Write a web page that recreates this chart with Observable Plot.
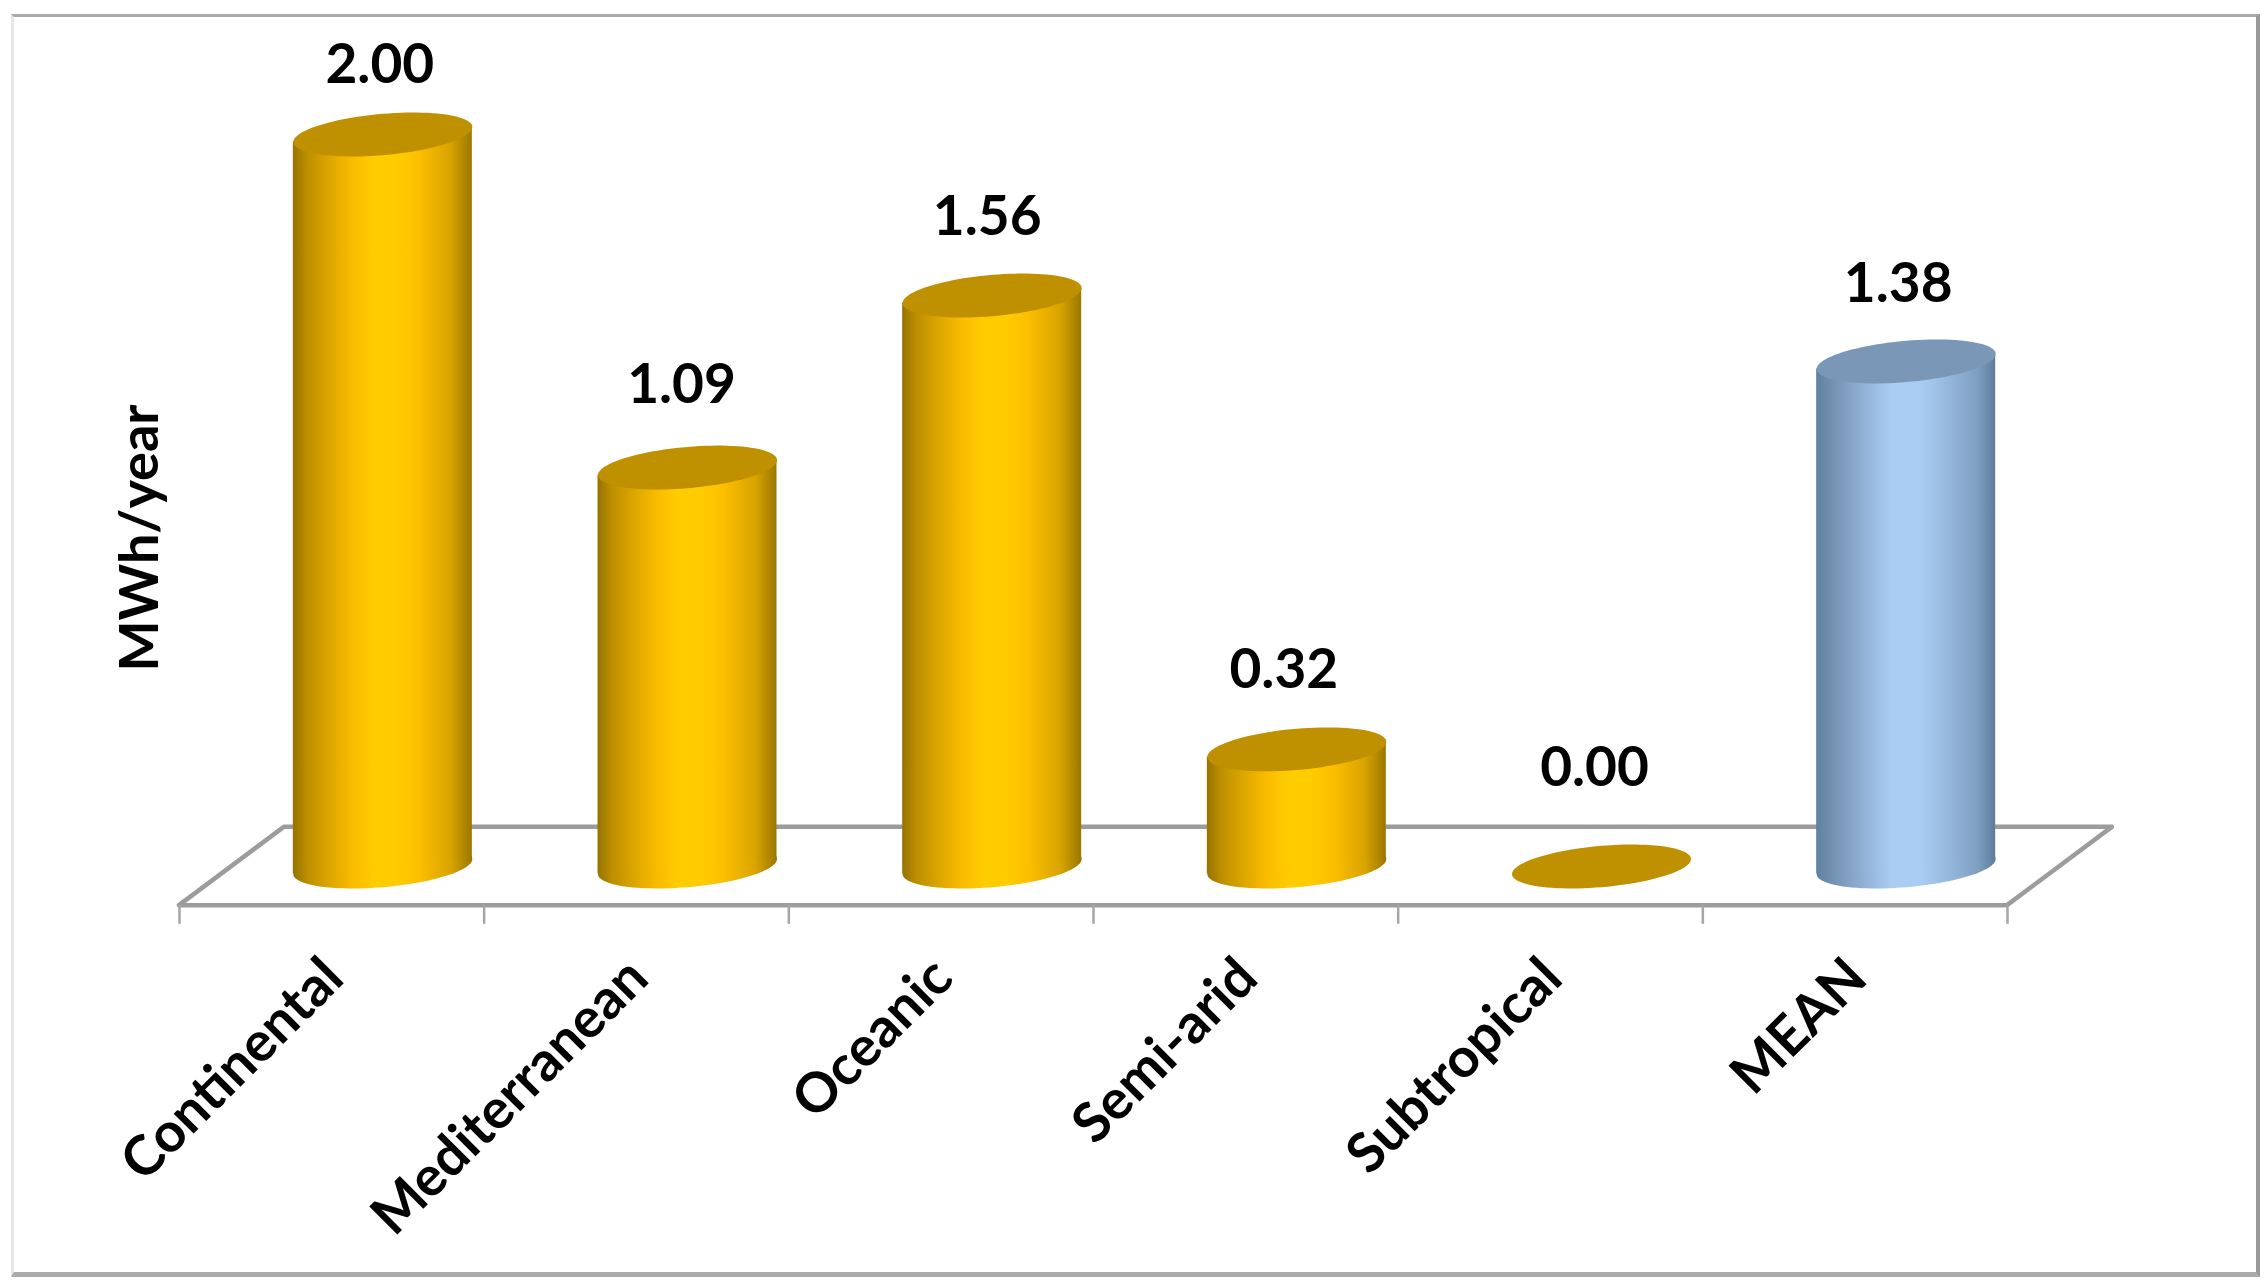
<!DOCTYPE html>
<html>
<head>
<meta charset="utf-8">
<script src="https://cdn.jsdelivr.net/npm/d3@7"></script>
<script src="https://cdn.jsdelivr.net/npm/@observablehq/plot@0.6"></script>
<style>
html,body{margin:0;padding:0;background:#fff;overflow:hidden;width:2267px;height:1288px}
#border{position:absolute;left:11px;top:14px;width:2242px;height:1255px;border-top:3px solid #a9a9a9;border-right:4px solid #999;border-bottom:5px solid #aaa;border-left:3px solid #e6e6e6;box-sizing:content-box}
#chart{position:absolute;left:0;top:0}
</style>
</head>
<body>
<div id="border"></div>
<div id="chart"></div>
<script>
const categories = ["Continental", "Mediterranean", "Oceanic", "Semi-arid", "Subtropical", "MEAN"];
const values = [2.00, 1.09, 1.56, 0.32, 0.00, 1.38];
const yTitle = "MWh/year";

const data = categories.map((category, i) => ({category, value: values[i], mean: category === "MEAN"}));

// Fine placement of the value labels (pixels)
const labelDx = [-3, -6, -5, -13, -7, -8];
const labelDy = [-69, -82, -78, -79, -98, -77];

// 3D look: floor depth, in value units and band widths
const floorFront = -0.107, floorBack = 0.107, tickEnd = -0.158, depthBands = 0.344;
const depthShift = 51, halfWidth = 89.5;
const slope = 0.0838;

const tilted = {
  draw(context, size) {
    const a = Math.sqrt(size / Math.PI), b = a * 0.231, c = -a * slope;
    for (let i = 0; i < 96; ++i) {
      const t = (i / 96) * 2 * Math.PI;
      const px = a * Math.cos(t), py = b * Math.sin(t) + c * Math.cos(t);
      i ? context.lineTo(px, py) : context.moveTo(px, py);
    }
    context.closePath();
  }
};

const floor = (index, {x, y}) => {
  const bw = x.bandwidth();
  const x0 = x(categories[0]), x1 = x0 + bw * categories.length, d = bw * depthBands;
  const g = d3.create("svg:g");
  g.append("path")
    .attr("d", `M${x0},${y(floorFront)}L${x1},${y(floorFront)}L${x1 + d},${y(floorBack)}L${x0 + d},${y(floorBack)}Z`)
    .attr("fill", "#fff").attr("stroke", "#9c9c9c").attr("stroke-width", 4.5).attr("stroke-linejoin", "round");
  return g.node();
};

const bandFill = d => d.mean ? "url(#blueBody)" : "url(#goldBody)";
const capFill = d => d.mean ? "#7b97b8" : "#bf9000";
const txt = {fontFamily: "Lato, 'Open Sans', sans-serif", fontWeight: 700, fill: "#000"};

const plot = Plot.plot({
  width: 2267, height: 1288,
  marginLeft: 179, marginRight: 260, marginTop: 134, marginBottom: 383,
  style: {background: "transparent", overflow: "visible"},
  x: {domain: categories, range: [179, 2007], padding: 0, round: false, axis: null},
  y: {domain: [0, 2], range: [866, 134], axis: null},
  color: {type: "identity"},
  marks: [
    floor,
    Plot.ruleX(categories, {x: d => d, y1: floorFront, y2: tickEnd, dx: -152.33, stroke: "#a6a6a6", strokeWidth: 2.5}),
    Plot.ruleX(categories.slice(-1), {x: d => d, y1: floorFront, y2: tickEnd, dx: 152.33, stroke: "#a6a6a6", strokeWidth: 2.5}),
    Plot.axisX({anchor: "bottom", tickSize: 0, tickRotate: -45, tickPadding: 0, dx: 2, dy: 63, fontSize: 55, ...txt, label: null}),
    Plot.dot(data.filter(d => d.value > 0), {x: "category", y: () => 0, r: halfWidth, symbol: tilted, dx: depthShift, fill: bandFill}),
    Plot.barY(data.filter(d => d.value > 0), {x: "category", y1: () => 0, y2: "value", insetLeft: 152.33 - halfWidth, insetRight: 152.33 - halfWidth, dx: depthShift, fill: bandFill}),
    Plot.dot(data, {x: "category", y: "value", r: halfWidth, symbol: tilted, dx: depthShift, fill: capFill}),
    ...data.map((d, i) => Plot.text([d], {x: "category", y: "value", text: v => v.value.toFixed(2), dx: depthShift + labelDx[i], dy: labelDy[i], fontSize: 55, ...txt})),
    Plot.text([yTitle], {frameAnchor: "left", textAnchor: "middle", rotate: -90, dx: -39, dy: 18, fontSize: 54, ...txt})
  ]
});

const defs = d3.select(plot).insert("svg:defs", ":first-child");
const gradient = (id, stops) => {
  const g = defs.append("linearGradient").attr("id", id).attr("x1", 0).attr("x2", 1).attr("y1", 0).attr("y2", 0);
  stops.forEach(([o, c]) => g.append("stop").attr("offset", o).attr("stop-color", c));
};
gradient("goldBody", [[0, "#967300"], [0.08, "#bd8f00"], [0.2, "#dba600"], [0.33, "#fabb00"], [0.45, "#ffcc00"], [0.58, "#ffcc00"], [0.7, "#fdbf00"], [0.88, "#d9a400"], [1, "#9a7700"]]);
gradient("blueBody", [[0, "#5f809f"], [0.1, "#7593b3"], [0.25, "#8fafd2"], [0.42, "#a9cdf3"], [0.58, "#a9cdf3"], [0.75, "#94b6da"], [0.9, "#7f9fc0"], [1, "#5c7c9b"]]);

d3.select(plot).selectAll('g[aria-label="bar"] rect').each(function() {
  const r = d3.select(this), cx = +r.attr("x") + +r.attr("width") / 2;
  r.attr("transform", `translate(${cx},0) skewY(${-Math.atan(slope) * 180 / Math.PI}) translate(${-cx},0)`);
});

document.getElementById("chart").appendChild(plot);
</script>
</body>
</html>
